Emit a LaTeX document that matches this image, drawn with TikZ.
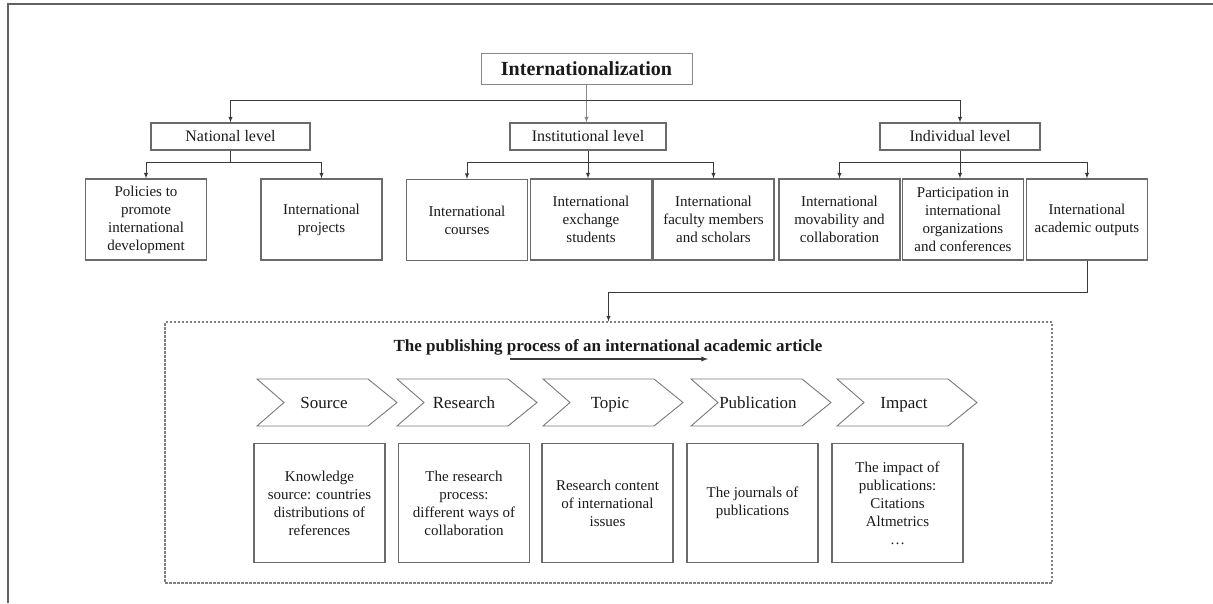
\documentclass[tikz,border=0pt]{standalone}
\usepackage{fontspec}
\setmainfont{Liberation Serif}
\definecolor{boxgray}{HTML}{6A6A6A}
\definecolor{lnkgray}{HTML}{3A3A3A}
\definecolor{txtgray}{HTML}{1A1A1A}
\definecolor{dotgray}{HTML}{808080}

\begin{document}
\begin{tikzpicture}[x=1pt, y=-1pt,
		box/.style={draw=boxgray, line width=1.2pt, align=center, inner sep=1pt, text=txtgray, font=\fontsize{15}{18}\selectfont},
		lvl/.style={box, minimum height=27pt, font=\fontsize{16}{19}\selectfont},
		sub/.style={box, minimum width=121pt, minimum height=81pt},
		res/.style={box, minimum width=131pt, minimum height=119pt},
		arr/.style={draw=lnkgray, line width=0.9pt, -latex},
		chev/.style={draw=boxgray!90, line width=0.9pt}]
	\useasboundingbox (0,0) rectangle (1213,603);
	\draw[draw=lnkgray!80, line width=1.6pt] (8,603) -- (8,4) -- (1213,4);
	% three levels
	\node[box, draw=boxgray!80, line width=1pt, minimum width=211pt, minimum height=31pt, font=\fontsize{20}{24}\selectfont\bfseries](intl) at (586.5, 69){Internationalization};
	\node[lvl, minimum width=159pt](nat) at (230.5, 136.5){National level};
	\node[lvl, minimum width=156pt](inst) at (588, 136.5){Institutional level};
	\node[lvl, minimum width=160pt](indv) at (960, 136.5){Individual level};
	\node[sub](pol) at (146, 219.5){Policies to\\promote\\international\\development};
	\node[sub](proj) at (321.5, 219.5){International\\projects};
	\node[sub](crs) at (467, 220){International\\courses};
	\node[sub](exch) at (591, 219.5){International\\exchange\\students};
	\node[sub](fac) at (713.5, 219.5){International\\faculty members\\and scholars};
	\node[sub](mov) at (839.5, 219.5){International\\movability and\\collaboration};
	\node[sub](part) at (963, 219.5){Participation in\\international\\organizations\\and conferences};
	\node[sub](outp) at (1087, 219.5){International\\academic outputs};
	\draw[arr, draw=lnkgray!60](intl.south)--(intl.south |- inst.north);
	\draw[arr](intl.south)++(0, 15)-|(nat.north);
	\draw[arr](intl.south)++(0, 15)-|(indv.north);
	\draw[arr](nat.south)--++(0, 12)-|(pol.north);
	\draw[arr](nat.south)++(0, 12)-|(proj.north);
	\draw[arr](inst.south)--(inst.south |- exch.north);
	\draw[arr](inst.south)++(0, 12)-|(crs.north);
	\draw[arr](inst.south)++(0, 12)-|(fac.north);
	\draw[arr](indv.south)--(indv.south |- part.north);
	\draw[arr](indv.south)++(0, 12)-|(mov.north);
	\draw[arr](indv.south)++(0, 12)-|(outp.north);
	% publishing process
	\node[draw=dotgray, dash pattern=on 2.5pt off 1.5pt, line width=1.1pt, minimum width=887pt, minimum height=261pt, inner sep=0pt](proc) at (608.5, 452.5){};
	\draw[arr](outp.south)--++(0, 32)-|(proc.north);
	\node[text=txtgray, font=\fontsize{17}{20}\selectfont\bfseries](ptitle) at (608, 347){The publishing process of an international academic article};
	\coordinate(pa) at (510, 359);
	\coordinate(pb) at (708, 359);
	\draw[arr, line width=1.3pt](pa)--(pb);
	\foreach \x/\nm/\txt in {257/src/Source, 397/rsch/Research, 543/tpc/Topic, 691/pbl/Publication, 837/imp/Impact}{
		\draw[chev](\x, 379)--++(111, 0)--++(29, 23.5)--++(-29, 23.5)--++(-111, 0)--++(27, -23.5)--cycle;
		\node[anchor=base, text=txtgray, font=\fontsize{17}{20}\selectfont](\nm) at (\x+67, 408){\txt};
	}
	\foreach \x/\nm/\txt in {319.5/knw/{Knowledge\\source: countries\\distributions of\\references},
		464/proc2/{The research\\process:\\different ways of\\collaboration},
		607.5/cont/{Research content\\of international\\issues},
		752.5/jour/{The journals of\\publications},
		897.5/imc/{The impact of\\publications:\\Citations\\Altmetrics\\\dots}}{
		\node[res](\nm) at (\x, 503){\txt};
	}
\end{tikzpicture}
\end{document}
